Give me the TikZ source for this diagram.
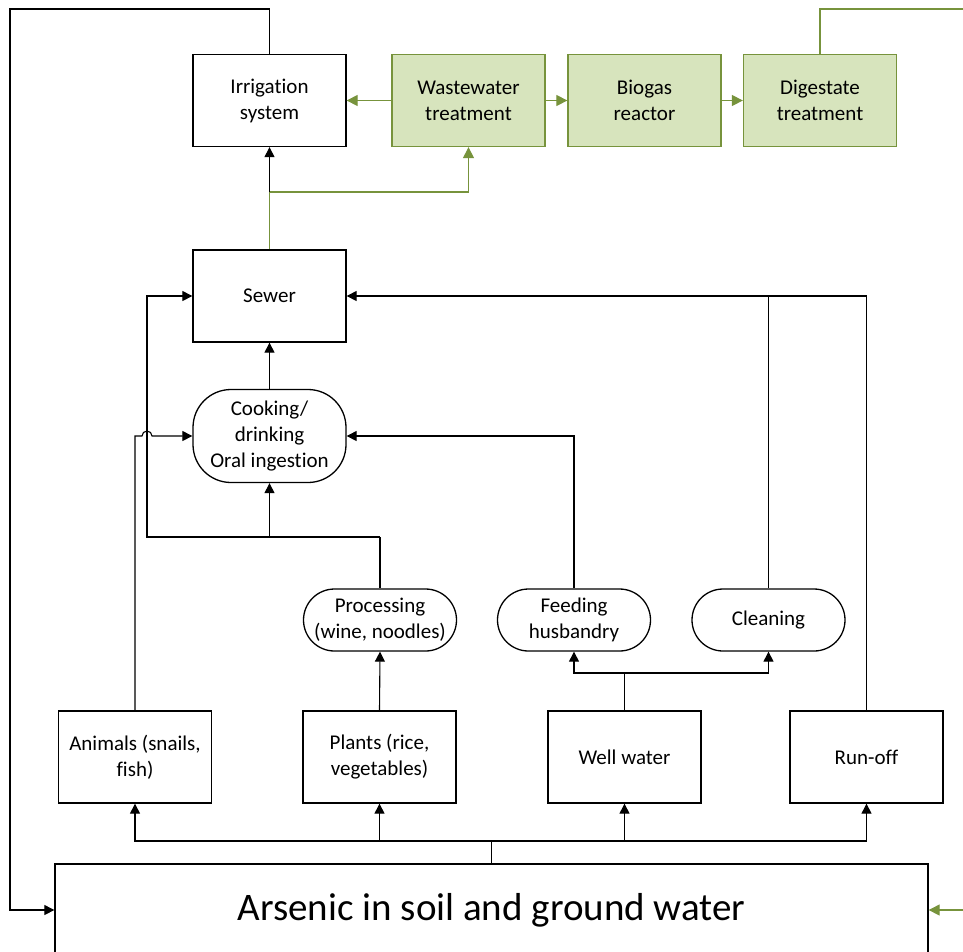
\documentclass[tikz,border=0pt]{standalone}
\usepackage{fontspec}
\setmainfont{Carlito}[Ligatures=NoCommon]
\usetikzlibrary{arrows.meta}
\definecolor{leaf}{HTML}{77933C}
\definecolor{leaffill}{HTML}{D7E4BD}
\begin{document}
\begin{tikzpicture}[x=1pt,y=-1pt,
  box/.style={draw=black, line width=1.3pt, fill=white, minimum width=153pt,
    minimum height=92pt, align=center, inner sep=2pt,
    font=\fontsize{21}{26}\selectfont},
  pill/.style={box, rounded corners=31pt, minimum height=62pt},
  greenbox/.style={box, draw=leaf, fill=leaffill},
  plain/.style={line width=1.1pt, draw=black},
  link/.style={plain, -{Triangle[length=10pt,width=10pt]}},
  greenplain/.style={line width=1.2pt, draw=leaf},
  greenlink/.style={greenplain, -{Triangle[length=11pt,width=11pt]}}]
\useasboundingbox (0,0) rectangle (963,951);

% treatment chain
\node[box] (irr) at (269.5,100.5) {Irrigation\\system};
\node[greenbox] (ww) at (468.5,100.5) {Wastewater\\treatment};
\node[greenbox] (bio) at (644.5,100.5) {Biogas\\reactor};
\node[greenbox] (dig) at (820,100.5) {Digestate\\treatment};

% household uses
\node[box] (sewer) at (269.5,296) {Sewer};
\node[box, rounded corners=38pt, minimum height=93pt] (cook) at (269.5,436) {Cooking/\\drinking\\Oral ingestion};
\node[pill] (proc) at (380,620) {Processing\\(wine, noodles)};
\node[pill] (feed) at (574,620) {Feeding\\husbandry};
\node[pill] (clean) at (768.5,620) {Cleaning};

% sources
\node[box] (animals) at (135,757) {Animals (snails,\\fish)};
\node[box] (plants) at (379.5,757) {Plants (rice,\\vegetables)};
\node[box] (well) at (624.5,757) {Well water};
\node[box] (runoff) at (866.5,757) {Run-off};
\node[box, minimum width=873pt, minimum height=92pt, font=\fontsize{39}{46}\selectfont] (arsenic) at (491.5,910) {Arsenic in soil and ground water};

% junction points
\coordinate (bus) at (491.5,841);
\coordinate (wj) at (624.5,673);
\coordinate (pj) at (380,537);
\coordinate (pl) at (147,537);
\coordinate (gj) at (269.5,192);
\coordinate (loopA) at (10,9);
\coordinate (gOut) at (963,9);
\coordinate (gIn) at (963,910);

% soil to sources
\draw[plain] (arsenic.north) -- (bus);
\draw[link] (bus) -| (animals.south);
\draw[link] (bus) -| (plants.south);
\draw[link] (bus) -| (well.south);
\draw[link] (bus) -| (runoff.south);

% sources to uses
\draw[link] (plants.north) -- (proc.south);
\draw[plain] (well.north) -- (wj);
\draw[link] (wj) -| (feed.south);
\draw[link] (wj) -| (clean.south);

\draw[plain] (proc.north) -- (pj);
\draw[link] (pj) -| (cook.south);
\draw[link] (pj) -- (pl) |- (sewer.west);
\draw[link] (animals.north) -- (animals.north |- cook.west) -- ++(7,0)
  arc[start angle=180, end angle=0, radius=5pt] -- (cook.west);
\draw[link] (feed.north) |- (cook.east);
\draw[link] (cook.north) -- (sewer.south);
\draw[link] (clean.north) |- (sewer.east);
\draw[plain] (runoff.north) |- (clean.north |- sewer.east);

% sewer to treatment
\draw[greenplain] (sewer.north) -- (gj);
\draw[link] (gj) -- (irr.south);
\draw[greenlink] (gj) -| (ww.south);
\draw[greenlink] (ww.west) -- (irr.east);
\draw[greenlink] (ww.east) -- (bio.west);
\draw[greenlink] (bio.east) -- (dig.west);

% return loops to the soil
\draw[link] (irr.north) |- (loopA) |- (arsenic.west);
\draw[greenplain] (dig.north) |- (gOut);
\draw[greenlink] (gIn) -- (arsenic.east);
\end{tikzpicture}
\end{document}
